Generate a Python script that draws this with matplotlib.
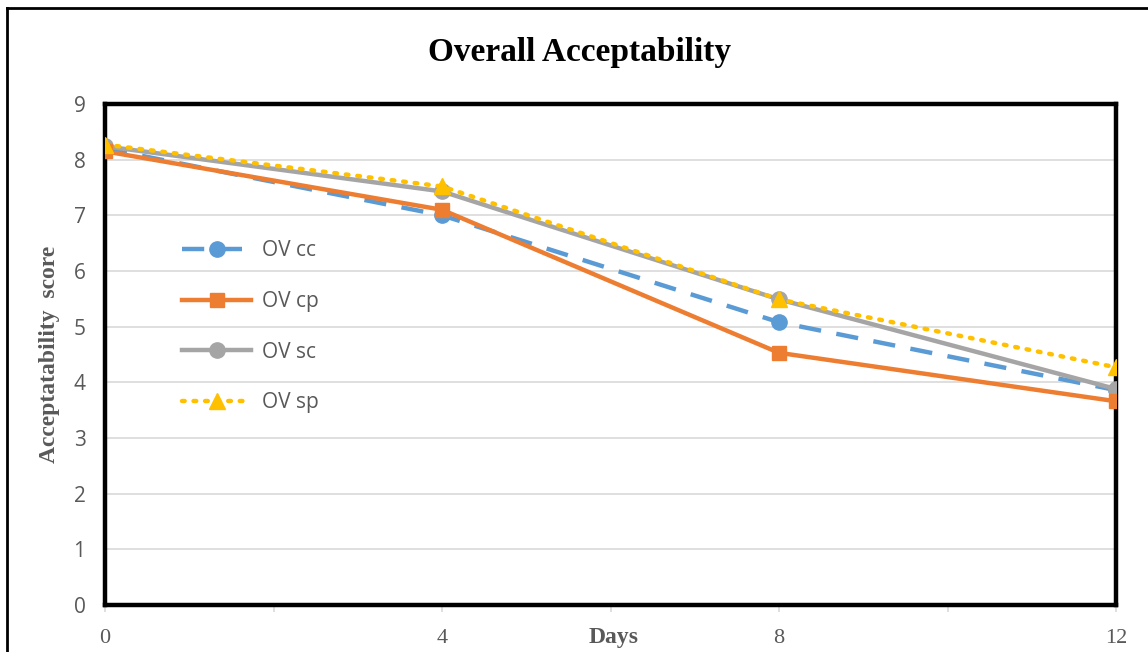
"""
Overall acceptability score over storage days, four treatments.
"""

import matplotlib
matplotlib.use("Agg")
import matplotlib.pyplot as plt
from matplotlib.lines import Line2D

days = [0, 4, 8, 12]
ov_cc = [8.20, 7.00, 5.08, 3.86]
ov_cp = [8.15, 7.10, 4.53, 3.66]
ov_sc = [8.24, 7.43, 5.49, 3.88]
ov_sp = [8.27, 7.52, 5.49, 4.27]

x_ticks = [0, 2, 4, 6, 8, 10, 12]
x_labels = ["0", "", "4", "", "8", "", "12"]
y_ticks = list(range(0, 10))

title = "Overall Acceptability"
x_title = "Days"
y_title = "Acceptatability  score"

c_blue = "#5b9bd5"
c_orange = "#ed7d31"
c_gray = "#a5a5a5"
c_yellow = "#ffc000"
c_text = "#595959"

fig = plt.figure(figsize=(11.48, 6.52), dpi=100)
ax = fig.add_axes([105 / 1148, 47 / 652, 1011 / 1148, 501 / 652])

ax.plot(days, ov_cc, color=c_blue, lw=3.2, ls=(0, (5, 3.5)), marker="o",
        ms=11, label="OV cc", zorder=3)
ax.plot(days, ov_cp, color=c_orange, lw=3.2, marker="s", ms=10,
        label="OV cp", zorder=4)
ax.plot(days, ov_sc, color=c_gray, lw=3.2, marker="o", ms=11,
        label="OV sc", zorder=3)
ax.plot(days, ov_sp, color=c_yellow, lw=3.2, ls=(0, (0.6, 2.0)),
        dash_capstyle="round", marker="^", ms=12, label="OV sp", zorder=5)

ax.set_xlim(0, 12)
ax.set_ylim(0, 9)
ax.set_xticks(x_ticks)
ax.set_xticklabels(x_labels, fontsize=16, family="Liberation Serif", color=c_text)
ax.set_yticks(y_ticks)
ax.set_yticklabels([str(v) for v in y_ticks], fontsize=15, family="Open Sans",
                   color=c_text)
ax.tick_params(axis="x", length=5, color="#d9d9d9", width=1.2, pad=12)
ax.tick_params(axis="y", length=0, pad=14)
ax.grid(axis="y", color="#d9d9d9", lw=1.2)
ax.set_axisbelow(True)
for sp in ax.spines.values():
    sp.set_linewidth(3.2)
    sp.set_color("black")

fig.text(580 / 1148, 1 - 52 / 652, title, ha="center", va="center",
         fontsize=24, fontweight="bold", family="Liberation Serif")
ax.text(0.503, -0.065, x_title, transform=ax.transAxes, ha="center", va="center",
        fontsize=17, fontweight="bold", family="Liberation Serif", color=c_text)
ax.set_ylabel(y_title, fontsize=17, fontweight="bold", family="Liberation Serif",
              color=c_text, labelpad=10)

ax.legend(loc="upper left", bbox_to_anchor=(0.058, 0.765), frameon=False,
          prop={"family": "Open Sans", "size": 15},
          labelspacing=1.42, handlelength=3.3, handletextpad=0.5,
          labelcolor=c_text)

# outer chart border
fig.add_artist(Line2D([7 / 1148, 7 / 1148], [0, 1 - 8 / 652], color="black",
                      lw=2, transform=fig.transFigure))
fig.add_artist(Line2D([7 / 1148, 1], [1 - 8 / 652, 1 - 8 / 652], color="black",
                      lw=2, transform=fig.transFigure))

fig.savefig("out.png", dpi=100)
